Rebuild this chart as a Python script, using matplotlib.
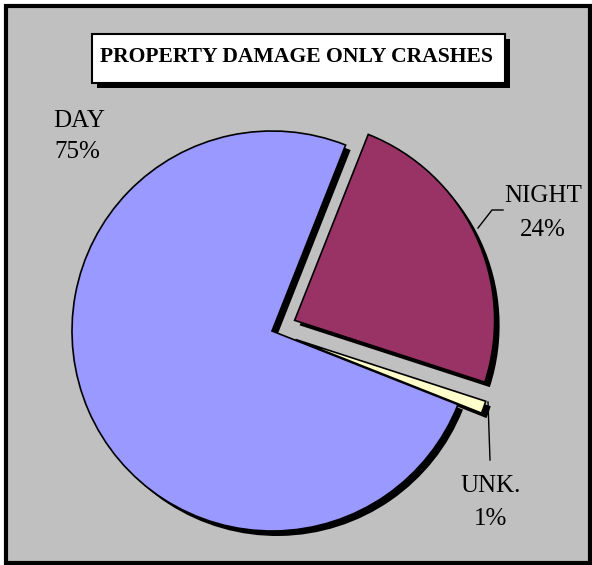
import matplotlib
matplotlib.use("Agg")
import matplotlib.pyplot as plt
from matplotlib.patches import Rectangle

title = "PROPERTY DAMAGE ONLY CRASHES"
categories = ["DAY", "NIGHT", "UNK."]
values = [75, 24, 1]
colors = ["#9999FF", "#993366", "#FFFFCC"]
explode_px = [0, 25, 25]

W, H = 592, 565
fig = plt.figure(figsize=(W / 100, H / 100), dpi=100, facecolor="white")
ax = fig.add_axes([0, 0, 1, 1])

def Y(py):
    return H - py

# background frame
ax.add_patch(Rectangle((6, Y(563)), 584, 557, facecolor="#C0C0C0",
                       edgecolor="black", linewidth=3, zorder=0))

cx, cy, r = 272, Y(331), 200
start = -21.6

# shadow
ax.pie(values, explode=explode_px, colors=["black"] * 3, startangle=start,
       counterclock=False, center=(cx + 5, cy - 5), radius=r,
       wedgeprops=dict(linewidth=0), frame=False)
# slices
ax.pie(values, explode=explode_px, colors=colors, startangle=start,
       counterclock=False, center=(cx, cy), radius=r,
       wedgeprops=dict(linewidth=1.2, edgecolor="black"), frame=False)

font = "Liberation Serif"
labels_pos = [(79, 127, 77, 158), (543, 202, 543, 236), (491, 492, 491, 525)]
for cat, v, (lx, ly, px, py) in zip(categories, values, labels_pos):
    ax.text(lx, Y(ly), cat, ha="center", va="baseline", fontsize=18, family=font)
    ax.text(px, Y(py), f"{v}%", ha="center", va="baseline", fontsize=18, family=font)

# leader lines
ax.plot([478, 492, 503], [Y(228), Y(210), Y(210)], color="black", lw=1)
ax.plot([488, 490], [Y(402), Y(460)], color="black", lw=1)

# title box with shadow
ax.add_patch(Rectangle((97, Y(88)), 413, 49, facecolor="black", edgecolor="none", zorder=3))
ax.add_patch(Rectangle((92, Y(83)), 413, 49, facecolor="white", edgecolor="black",
                       linewidth=1.5, zorder=4))
ax.text(296, Y(62), title, ha="center", va="baseline", fontsize=15.6,
        fontweight="bold", family=font, zorder=5)

ax.set_xlim(0, W)
ax.set_ylim(0, H)
ax.set_aspect("auto")
ax.axis("off")
fig.savefig("out.png", dpi=100, facecolor="white")
